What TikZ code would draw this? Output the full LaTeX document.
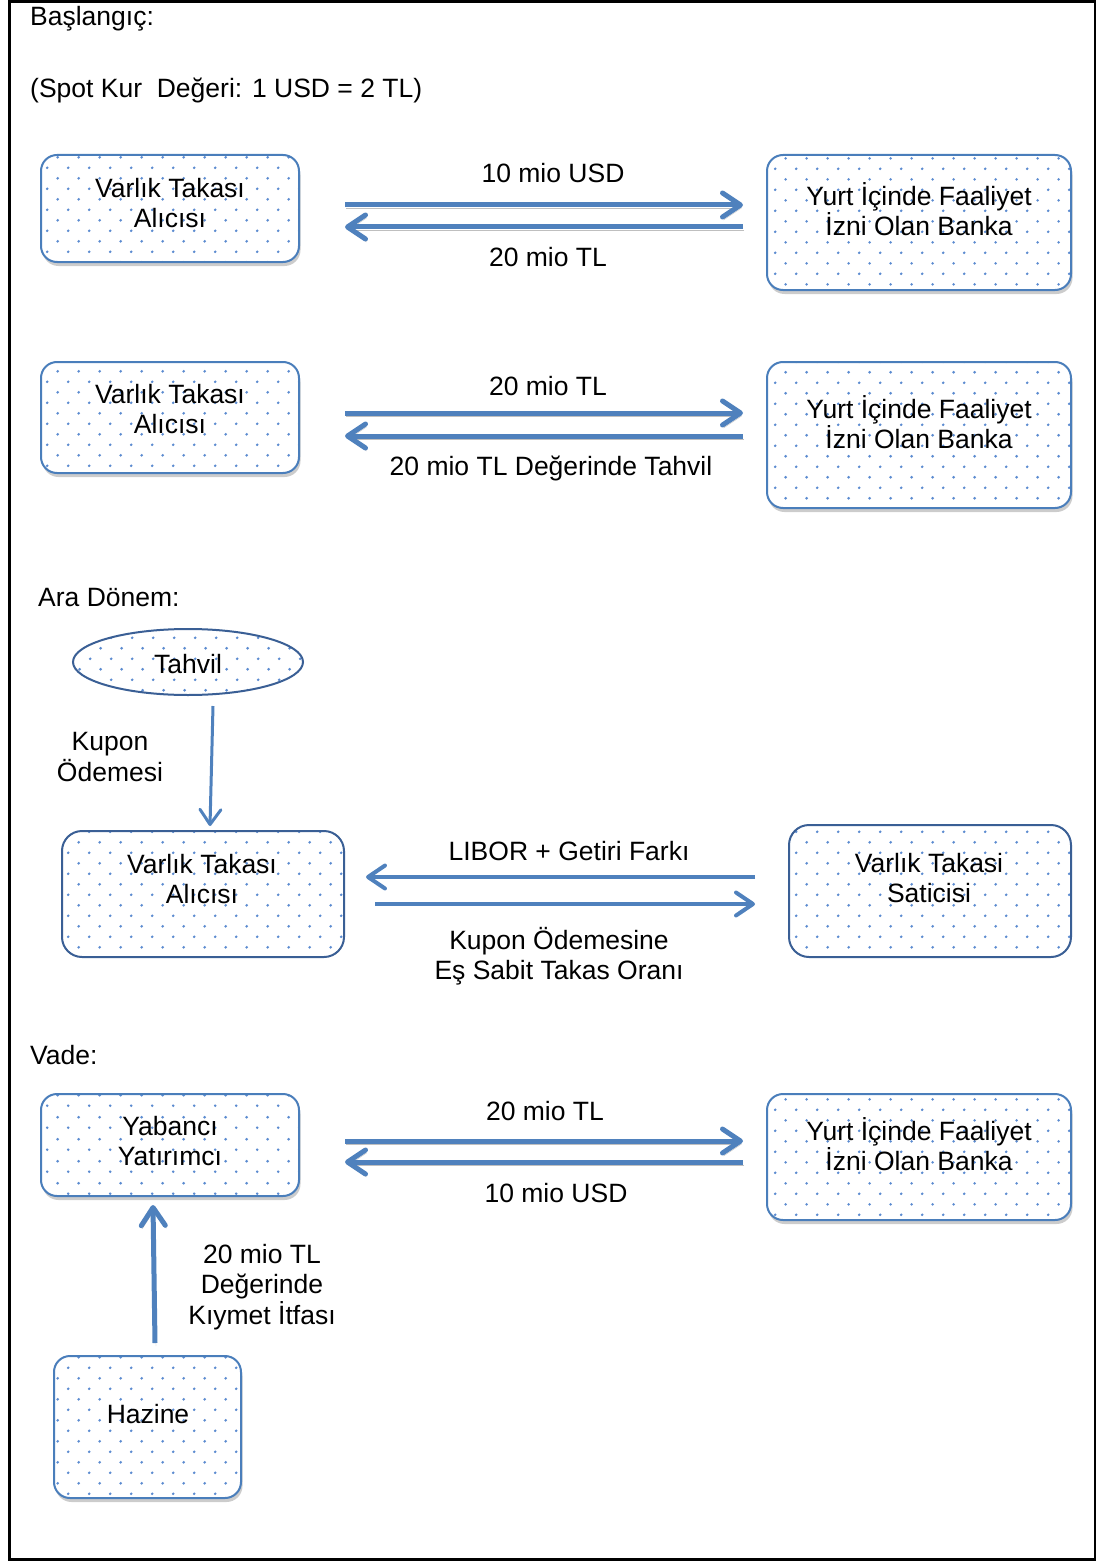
\documentclass[tikz,border=0pt]{standalone}
\usepackage{fontspec}
\setmainfont{Liberation Sans}
\usetikzlibrary{arrows.meta,shadows,patterns.meta,shapes.geometric}
\definecolor{arrblue}{HTML}{4F81BD}
\definecolor{boxblue}{HTML}{4A7EBB}
\definecolor{darkbox}{HTML}{3A5F95}
\definecolor{dotblue}{HTML}{5B8BD0}
\tikzdeclarepattern{
  name=bluedots, type=uncolored,
  bottom left={(0pt,0pt)}, top right={(21.4pt,21.4pt)},
  tile size={(21.4pt,21.4pt)},
  code={\fill (5.35pt,5.35pt) circle (1.5pt); \fill (16.05pt,16.05pt) circle (1.5pt);}
}
\begin{document}
\begin{tikzpicture}[x=1pt,y=-1pt,
  every node/.style={font=\fontsize{26.5}{30.5}\selectfont},
  tbox/.style={rectangle, rounded corners=16, draw=boxblue, line width=2,
    drop shadow={shadow xshift=1.5pt, shadow yshift=-4pt, opacity=0.4},
    preaction={fill=white}, pattern={bluedots}, pattern color=dotblue, inner sep=0},
  mbox/.style={rectangle, rounded corners=20, draw=darkbox, line width=2,
    preaction={fill=white}, pattern={bluedots}, pattern color=dotblue, inner sep=0},
  lbl/.style={inner sep=0, align=center},
  hdr/.style={inner sep=0, anchor=west},
  thk/.style={draw=arrblue, line width=5, -{Straight Barb[length=18pt,width=24pt,round]},
    preaction={draw=black!25, transform canvas={xshift=1pt,yshift=-3pt}}},
  med/.style={draw=arrblue, line width=4, -{Straight Barb[length=17pt,width=23pt,round]}},
  thn/.style={draw=arrblue, line width=3, -{Straight Barb[length=15pt,width=21pt,round]}}
]
\useasboundingbox (0,0) rectangle (1100,1562);
\draw[line width=2.5] (9.5,1.5) rectangle (1095,1559.5);

% headers
\node[hdr] (h1) at (30,19) {Başlangıç:};
\node[hdr] (h2) at (30,90) {(Spot Kur\ \ Değeri: 1 USD = 2 TL)};
\node[hdr] (h3) at (38,598) {Ara Dönem:};
\node[hdr] (h4) at (30,1055) {Vade:};

% row 1
\node[tbox, minimum width=258, minimum height=107] (b1) at (170,208.5) {};
\node[lbl] (b1t) at (170,203) {Varlık Takası\\Alıcısı};
\node[tbox, minimum width=304, minimum height=135] (y1) at (919,222.5) {};
\node[lbl] (y1t) at (919,209) {Yurt İçinde Faaliyet\\İzni Olan Banka};
\coordinate (r1a) at (345,205); \coordinate (r1b) at (743,205);
\coordinate (r1c) at (743,227); \coordinate (r1d) at (345,227);
\draw[thk] (r1a) -- (r1b);
\draw[thk] (r1c) -- (r1d);
\node[lbl] (l1a) at (553,173) {10 mio USD};
\node[lbl] (l1b) at (548,257) {20 mio TL};

% row 2
\node[tbox, minimum width=258, minimum height=111] (b2) at (170,417.5) {};
\node[lbl] (b2t) at (170,409) {Varlık Takası\\Alıcısı};
\node[tbox, minimum width=304, minimum height=146] (y2) at (919,435) {};
\node[lbl] (y2t) at (919,422) {Yurt İçinde Faaliyet\\İzni Olan Banka};
\coordinate (r2a) at (345,413); \coordinate (r2b) at (743,413);
\coordinate (r2c) at (743,436); \coordinate (r2d) at (345,436);
\draw[thk] (r2a) -- (r2b);
\draw[thk] (r2c) -- (r2d);
\node[lbl] (l2a) at (548,386) {20 mio TL};
\node[lbl] (l2b) at (551,468) {20 mio TL Değerinde Tahvil};

% interim
\node[ellipse, draw=darkbox, line width=2, preaction={fill=white}, pattern={bluedots},
  pattern color=dotblue, minimum width=230, minimum height=66, inner sep=0] (tv) at (188,662) {};
\node[lbl] (tvt) at (188,664) {Tahvil};
\node[mbox, minimum width=282, minimum height=126] (b3) at (203,894) {};
\node[lbl] (b3t) at (202,879) {Varlık Takası\\Alıcısı};
\node[mbox, minimum width=282, minimum height=132] (s3) at (930,891) {};
\node[lbl] (s3t) at (929,878) {Varlık Takasi\\Saticisi};
\coordinate (k1) at (213,706); \coordinate (k2) at (210,826);
\draw[thn] (k1) -- (k2);
\node[lbl] (kt) at (110,757) {Kupon\\Ödemesi};
\coordinate (m1a) at (755,877); \coordinate (m1b) at (366,877);
\coordinate (m2a) at (375,904); \coordinate (m2b) at (755,904);
\draw[med] (m1a) -- (m1b);
\draw[med] (m2a) -- (m2b);
\node[lbl] (ml1) at (569,851) {LIBOR + Getiri Farkı};
\node[lbl] (ml2) at (559,956) {Kupon Ödemesine\\Eş Sabit Takas Oranı};

% maturity
\node[tbox, minimum width=258, minimum height=102] (b4) at (170,1145) {};
\node[lbl] (b4t) at (170,1141) {Yabancı\\Yatırımcı};
\node[tbox, minimum width=304, minimum height=126] (y4) at (919,1157) {};
\node[lbl] (y4t) at (919,1144) {Yurt İçinde Faaliyet\\İzni Olan Banka};
\coordinate (r4a) at (345,1141); \coordinate (r4b) at (743,1141);
\coordinate (r4c) at (743,1162); \coordinate (r4d) at (345,1162);
\draw[thk] (r4a) -- (r4b);
\draw[thk] (r4c) -- (r4d);
\node[lbl] (l4a) at (545,1111) {20 mio TL};
\node[lbl] (l4b) at (556,1193) {10 mio USD};
\node[tbox, minimum width=187, minimum height=142] (hz) at (147.5,1427) {};
\node[lbl] (hzt) at (148,1414) {Hazine};
\coordinate (v1) at (155,1343); \coordinate (v2) at (153,1205);
\draw[thk] (v1) -- (v2);
\node[lbl] (vt) at (262,1287) {20 mio TL\\Değerinde\\Kıymet İtfası};
\end{tikzpicture}
\end{document}
